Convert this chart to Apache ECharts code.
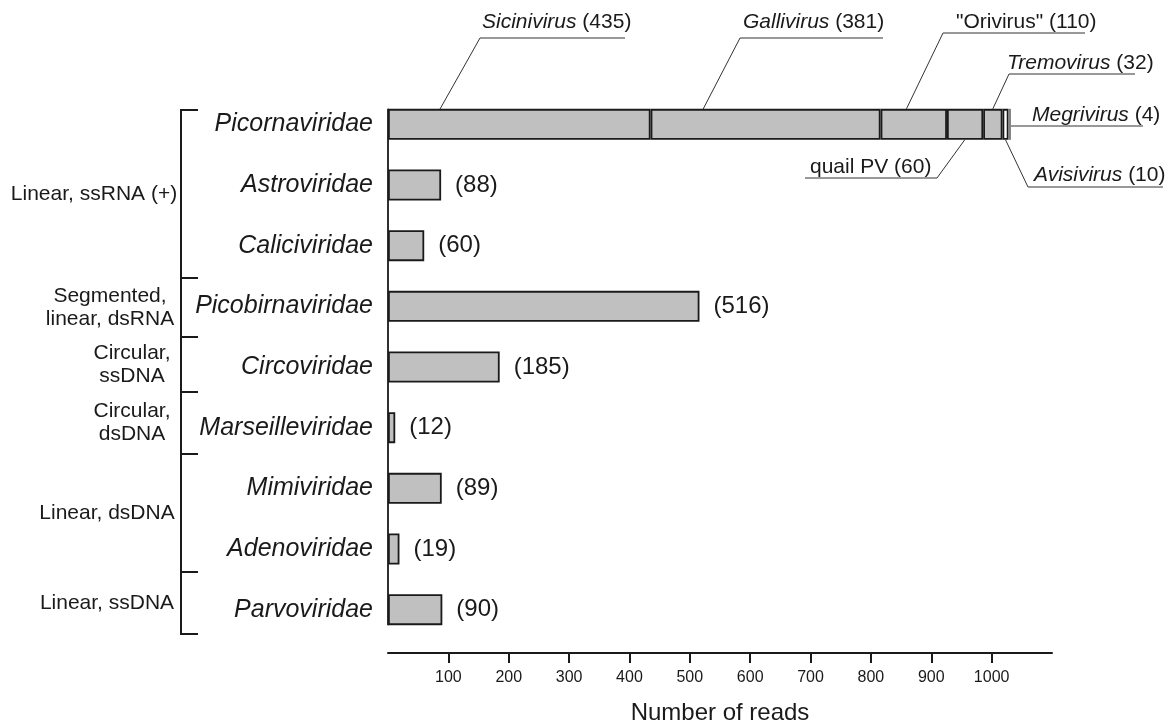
<!DOCTYPE html>
<html><head><meta charset="utf-8">
<script src="https://cdn.jsdelivr.net/npm/echarts@6/dist/echarts.min.js"></script>
<style>html,body{margin:0;padding:0;background:#fff}#c{width:1168px;height:724px}</style>
</head><body><div id="c"></div>
<script>
// ---- data ----
const families = ['Picornaviridae','Astroviridae','Caliciviridae','Picobirnaviridae','Circoviridae','Marseilleviridae','Mimiviridae','Adenoviridae','Parvoviridae'];
const familyReads = [null, 88, 60, 516, 185, 12, 89, 19, 90];
const genera = ['Sicinivirus','Gallivirus','"Orivirus"','quail PV','Tremovirus','Avisivirus','Megrivirus'];
const genusReads = [435, 381, 110, 60, 32, 10, 4];
const genusItalic = [true, true, false, false, true, true, true];
const groupNames = ['Linear, ssRNA (+)','Segmented,\nlinear, dsRNA','Circular,\nssDNA','Circular,\ndsDNA','Linear, dsDNA','Linear, ssDNA'];
const xTicks = [100, 200, 300, 400, 500, 600, 700, 800, 900, 1000];

// ---- layout / style ----
const FONT = '"Liberation Sans", Arial, Helvetica, sans-serif';
const INK = '#1a1a1a';
const GRAY = '#c0c0c0';
const BAR_W = 31;
const bracketX = 181, bracketTick = 17;
const bracketY = [110, 278, 337, 392, 454, 572, 634];
const groupLabelX = [94, 110, 132, 132, 107, 107];
// annotation layout for genus labels (pixel positions of text / underline)
const annLayout = [
  {tx: 482, ty: 22, u1: 480, u2: 625, uy: 38, from: 'left',  frac: 0.19, side: 'top',    dy: 4},
  {tx: 743, ty: 22, u1: 740, u2: 883, uy: 38, from: 'left',  frac: 0.22, side: 'top',    dy: 4},
  {tx: 956, ty: 22, u1: 943, u2: 1085, uy: 33, from: 'left', frac: 0.39, side: 'top',    dy: 0},
  {tx: 810, ty: 167, u1: 805, u2: 937, uy: 178, from: 'right', frac: 0.49, side: 'bottom', dy: 0},
  {tx: 1007, ty: 63, u1: 1009, u2: 1135, uy: 74, from: 'left', frac: 0.5, side: 'top',   dy: 0},
  {tx: 1034, ty: 175, u1: 1028, u2: 1163, uy: 187, from: 'left', frac: 0.5, side: 'bottom', dy: 0},
  {tx: 1032, ty: 115, u1: null, u2: 1143, uy: 126, from: 'end', frac: 1, side: 'mid', dy: 0}
];

const chart = echarts.init(document.getElementById('c'), null, {renderer: 'canvas'});

const series = genera.map((g, i) => ({
  type: 'bar', name: g, stack: 'reads', barWidth: BAR_W, silent: true,
  data: families.map((f, j) => j === 0 ? genusReads[i] : '-'),
  itemStyle: {color: i === 5 ? '#ffffff' : GRAY, borderColor: i === 6 ? '#808080' : INK, borderWidth: 1.8}
}));
series.push({
  type: 'bar', name: 'family', stack: 'reads', barWidth: BAR_W, silent: true,
  data: familyReads.map(v => v == null ? '-' : v),
  itemStyle: {color: GRAY, borderColor: INK, borderWidth: 1.8},
  label: {show: true, position: 'right', distance: 14, formatter: p => '(' + p.value + ')',
          fontSize: 24, color: INK, fontFamily: FONT}
});

chart.setOption({
  animation: false,
  backgroundColor: '#ffffff',
  grid: {left: 388, right: 116, top: 94, bottom: 84, outerBoundsMode: 'none', containLabel: false},
  xAxis: {
    type: 'value', min: 0, max: 1100, interval: 100, offset: 13,
    name: 'Number of reads', nameLocation: 'middle', nameGap: 48,
    nameTextStyle: {fontSize: 24, color: INK, fontFamily: FONT},
    axisLine: {show: true, lineStyle: {color: INK, width: 2}},
    axisTick: {show: true, length: 10, lineStyle: {color: INK, width: 2}, customValues: xTicks},
    axisLabel: {fontSize: 16, color: INK, fontFamily: FONT, margin: 17, customValues: xTicks,
                formatter: v => String(v)},
    splitLine: {show: false}
  },
  yAxis: {
    type: 'category', data: families, inverse: true,
    axisLine: {show: false}, axisTick: {show: false},
    axisLabel: {fontSize: 25, fontStyle: 'italic', color: INK, fontFamily: FONT, margin: 15},
    splitLine: {show: false}
  },
  series: series
});

// ---- decorations anchored to the axes ----
const g = [];
const first = chart.convertToPixel({gridIndex: 0}, [0, families[0]]);
const last = chart.convertToPixel({gridIndex: 0}, [0, families[families.length - 1]]);
g.push({type: 'line', silent: true, shape: {x1: first[0], y1: first[1] - BAR_W / 2, x2: first[0], y2: last[1] + BAR_W / 2},
        style: {stroke: INK, lineWidth: 1.8}});

// brackets + group labels
g.push({type: 'line', silent: true, shape: {x1: bracketX, y1: bracketY[0], x2: bracketX, y2: bracketY[bracketY.length - 1]},
        style: {stroke: INK, lineWidth: 2}});
bracketY.forEach(y => g.push({type: 'line', silent: true, shape: {x1: bracketX - 1, y1: y, x2: bracketX + bracketTick, y2: y},
        style: {stroke: INK, lineWidth: 2}}));
groupNames.forEach((name, i) => g.push({type: 'text', silent: true, style: {
  text: name, x: groupLabelX[i], y: (bracketY[i] + bracketY[i + 1]) / 2,
  textAlign: 'center', textVerticalAlign: 'middle', fontSize: 21, lineHeight: 23, fontFamily: FONT, fill: INK}}));

// genus annotations
let cum = 0;
genera.forEach((name, i) => {
  const L = annLayout[i];
  const start = cum, v = genusReads[i];
  cum += v;
  const c = chart.convertToPixel({gridIndex: 0}, [start + L.frac * v, families[0]]);
  let ax = c[0], ay;
  if (L.side === 'top') ay = c[1] - BAR_W / 2 + L.dy;
  else if (L.side === 'bottom') ay = c[1] + BAR_W / 2 - L.dy;
  else ay = L.uy;
  const label = genusItalic[i] ? '{i|' + name + '} (' + v + ')' : name + ' (' + v + ')';
  g.push({type: 'text', silent: true, style: {
    text: label, x: L.tx, y: L.ty, textAlign: 'left', textVerticalAlign: 'middle',
    fontSize: 21, fontFamily: FONT, fill: INK,
    rich: {i: {fontStyle: 'italic', fontSize: 21, fontFamily: FONT, fill: INK}}}});
  const u1 = L.u1 == null ? ax : L.u1;
  g.push({type: 'line', silent: true, shape: {x1: u1, y1: L.uy, x2: L.u2, y2: L.uy}, style: {stroke: '#333', lineWidth: 1}});
  if (L.from !== 'end') {
    const sx = L.from === 'left' ? L.u1 : L.u2;
    g.push({type: 'line', silent: true, shape: {x1: sx, y1: L.uy, x2: ax, y2: ay}, style: {stroke: '#333', lineWidth: 1}});
  }
});

chart.setOption({graphic: g});
</script>
</body></html>
